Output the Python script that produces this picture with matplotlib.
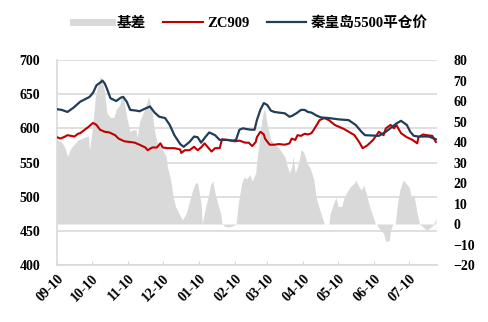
import matplotlib
matplotlib.use("Agg")
import matplotlib.pyplot as plt
from matplotlib.lines import Line2D
import pandas as pd
import numpy as np

plt.rcParams['font.family'] = ['Liberation Serif', 'Noto Sans CJK SC', 'DejaVu Sans']
plt.rcParams['font.weight'] = 'bold'

base_date = pd.Timestamp('2018-09-10')

# 秦皇岛5500平仓价 (days since 2018-09-10, value)
blue_days = [0, 4, 9, 14, 20, 28, 31, 34, 38, 39, 41, 43, 46, 51, 55, 57, 60, 63, 68, 71, 76, 80, 84, 88, 93,
             97, 101, 106, 109, 114, 118, 121, 124, 128, 131, 136, 140, 147, 151, 154, 157, 160, 163, 167, 170,
             172, 175, 178, 181, 184, 187, 191, 196, 200, 202, 206, 210, 213, 216, 219, 223, 227, 234, 243,
             251, 257, 262, 265, 277, 283, 292, 296, 301, 304, 307, 311, 320, 326]
blue_vals = [628, 627, 624, 630, 639, 646, 652, 663, 668, 670, 666, 658, 644, 640, 645, 646, 639, 627, 626, 625,
             629, 632, 623, 617, 615, 605, 590, 577, 573, 580, 588, 587, 579, 588, 594, 590, 583, 583, 582, 583,
             598, 600, 599, 598, 598, 612, 627, 637, 634, 626, 624, 623, 622, 617, 618, 622, 627, 627, 624, 623,
             619, 616, 615, 613, 612, 605, 595, 590, 589, 595, 607, 611, 605, 595, 589, 588, 588, 584]

# ZC909
red_days = [0, 3, 7, 9, 15, 18, 20, 27, 31, 34, 37, 41, 45, 50, 53, 58, 63, 67, 71, 76, 78, 82, 86, 89, 91, 95,
            101, 106, 107, 110, 114, 118, 121, 124, 127, 130, 133, 136, 140, 142, 147, 153, 157, 162, 165, 168,
            171, 172, 175, 178, 179, 183, 187, 191, 196, 200, 202, 205, 207, 210, 213, 216, 219, 221, 226, 230,
            234, 239, 243, 247, 251, 256, 260, 263, 267, 272, 275, 277, 281, 283, 287, 290, 292, 296, 301, 306,
            310, 311, 315, 318, 323, 326]
red_vals = [587, 585, 588, 590, 588, 592, 593, 602, 608, 605, 598, 595, 594, 590, 585, 581, 580, 579, 576, 572,
            568, 572, 572, 578, 572, 571, 571, 569, 564, 568, 568, 573, 568, 572, 578, 572, 566, 571, 571, 584,
            583, 581, 582, 579, 579, 574, 580, 587, 595, 591, 585, 576, 576, 577, 576, 578, 585, 583, 590, 589,
            592, 591, 593, 598, 612, 615, 612, 605, 602, 599, 595, 590, 580, 571, 575, 583, 590, 595, 590, 600,
            605, 600, 605, 593, 587, 583, 578, 587, 591, 590, 589, 580]

# 基差 (right axis)
basis_days = [0, 4, 7, 9, 12, 18, 27, 28, 31, 33, 37, 39, 41, 43, 46, 49, 51, 54, 55, 57, 60, 63, 65, 68, 69,
              71, 74, 79, 82, 84, 86, 89, 91, 94, 95, 98, 100, 102, 106, 108, 111, 114, 117, 119, 121, 124, 125,
              127, 130, 132, 134, 136, 139, 141, 142, 144, 147, 151, 154, 156, 159, 161, 163, 166, 168, 171, 172,
              174, 176, 178, 179, 181, 184, 187, 191, 196, 198, 200, 202, 203, 205, 208, 210, 211, 213, 215, 218,
              221, 223, 226, 228, 230, 234, 235, 238, 240, 242, 245, 247, 250, 252, 256, 257, 260, 262, 264, 267,
              269, 272, 274, 275, 277, 281, 283, 286, 287, 289, 291, 293, 295, 298, 300, 303, 305, 307, 310, 312,
              315, 318, 320, 323, 325, 326]
basis_vals = [41, 40, 37, 33, 37, 41, 43, 36, 49, 62, 72, 70, 64, 54, 52, 52, 56, 58, 61, 63, 52, 45, 46, 46,
              42, 50, 54, 62, 54, 45, 40, 38, 36, 33, 28, 21, 13, 8.5, 4, 2, 5, 11, 17, 20, 20, 10, 0, 6, 13, 19,
              21, 15, 8.5, 5, 0, -1, -1.5, -1, 0, 10, 20, 23, 22, 24, 21, 25, 31, 40, 50, 56, 55, 48, 41, 39, 37,
              33, 28.5, 25, 27.8, 33, 25, 30, 36, 36, 34, 30, 27, 21.5, 13, 7, 3.6, 0, 0, 5, 10, 13, 8.5, 8.5, 13,
              16, 18, 20, 21.5, 18, 16.6, 19, 13, 8.5, 3.6, 0, 0, -2, -4.5, -8.6, -8, -3, 0, 0, 10, 16.6, 21.5, 20,
              18, 13, 14.6, 5, 0, -1.5, -3, -2.3, -1, 1, 3]

tick_labels = ['09-10', '10-10', '11-10', '12-10', '01-10', '02-10', '03-10', '04-10', '05-10', '06-10', '07-10']
tick_dates = [base_date + pd.DateOffset(months=i) for i in range(len(tick_labels))]
tick_days = [(d - base_date).days for d in tick_dates]

left_ticks = [400, 450, 500, 550, 600, 650, 700]
right_ticks = [-20, -10, 0, 10, 20, 30, 40, 50, 60, 70, 80]

fig = plt.figure(figsize=(4.89, 3.22), dpi=100)
ax = fig.add_axes([57 / 489, 1 - 265 / 322, 380 / 489, 205 / 322])
ax2 = ax.twinx()
ax3 = ax.twinx()

grid_c = '#d9d9d9'
ax.set_ylim(400, 700)
ax.set_yticks(left_ticks)
ax.set_xlim(0, 327)
ax.set_xticks(tick_days)
ax.set_xticklabels(tick_labels, rotation=45, ha='right', rotation_mode='anchor', fontsize=10, fontweight='bold')
ax.grid(axis='y', color=grid_c, linewidth=1.2)
ax.set_axisbelow(True)
ax.tick_params(axis='y', length=0, pad=12, labelsize=10)
ax.tick_params(axis='x', direction='in', length=3, color=grid_c, pad=5)
for s in ['top', 'right']:
    ax.spines[s].set_visible(False)
ax.spines['left'].set_color(grid_c)
ax.spines['bottom'].set_color(grid_c)
ax.spines['left'].set_linewidth(1.2)
ax.spines['bottom'].set_linewidth(1.2)
for lab in ax.get_yticklabels():
    lab.set_fontweight('bold')

ax2.fill_between(basis_days, 0, basis_vals, color='#d9d9d9', linewidth=0)
ax2.set_ylim(-20, 80)
ax2.set_yticks(right_ticks)
ax2.tick_params(axis='y', length=0, pad=12, labelsize=10)
for lab in ax2.get_yticklabels():
    lab.set_fontweight('bold')
for s in ax2.spines.values():
    s.set_visible(False)

ax3.plot(red_days, red_vals, color='#c00000', linewidth=1.5)
ax3.plot(blue_days, blue_vals, color='#213d5a', linewidth=1.6)
ax3.set_ylim(400, 700)
ax3.set_yticks([])
for s in ax3.spines.values():
    s.set_visible(False)

handles = [Line2D([], [], color='#d9d9d9', linewidth=5),
           Line2D([], [], color='#c00000', linewidth=1.5),
           Line2D([], [], color='#213d5a', linewidth=1.6)]
fig.legend(handles, ['基差', 'ZC909', '秦皇岛5500平仓价'], loc='center', bbox_to_anchor=(250 / 489, 1 - 23 / 322),
           ncol=3, frameon=False, handlelength=2.7, columnspacing=1.2, handletextpad=0.3,
           prop={'weight': 'bold', 'size': 10.5})

fig.savefig('out.png', dpi=100)
